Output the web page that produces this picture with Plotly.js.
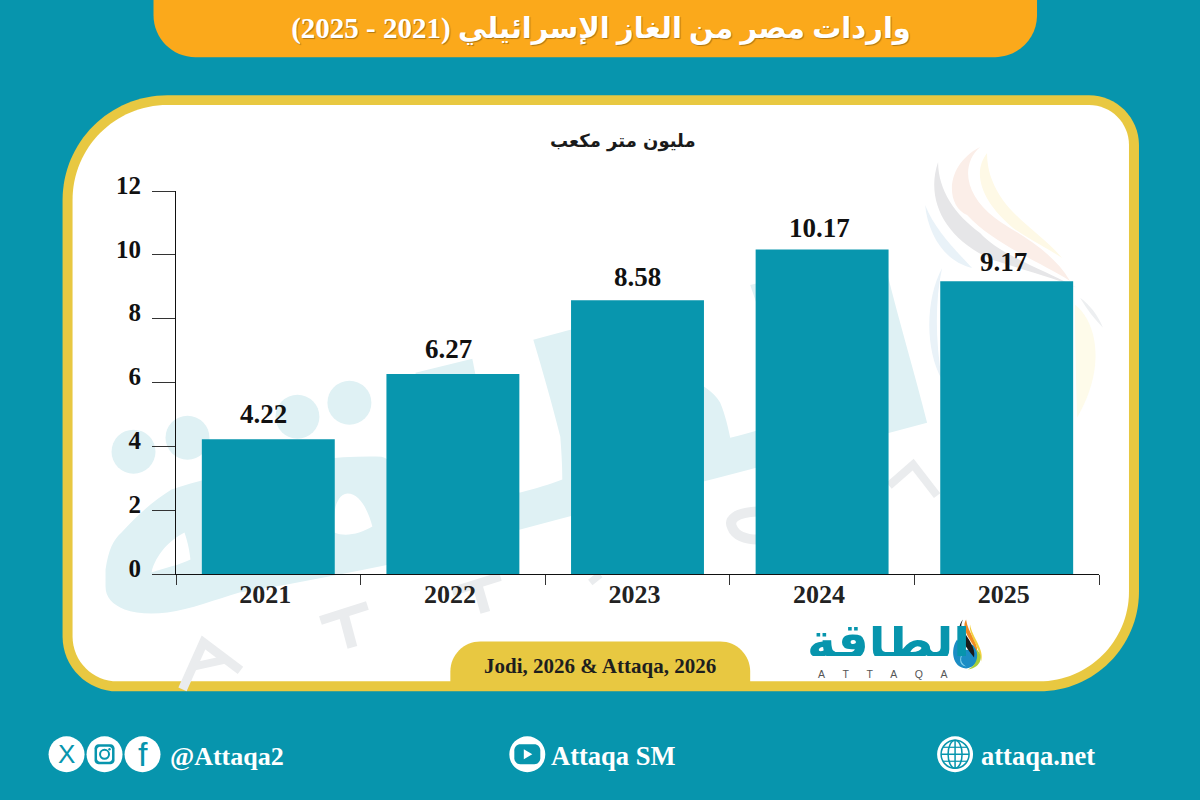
<!DOCTYPE html>
<html><head><meta charset="utf-8">
<script src="https://cdn.plot.ly/plotly-3.0.1.min.js"></script>
<style>html,body{margin:0;padding:0;background:#0795AD}#c{width:1200px;height:800px}</style></head>
<body><div id="c"></div>
<script>
const years = ['2021','2022','2023','2024','2025'];
const imports = [4.22,6.27,8.58,10.17,9.17];
const valueLabels = ['4.22','6.27','8.58','10.17','9.17'];
const yTicks = [0,2,4,6,8,10,12];
const chartTitle = 'واردات مصر من الغاز الإسرائيلي (2021 - 2025)';
const unitLabel = 'مليون متر مكعب';
const sourceLabel = 'Jodi, 2026 &amp; Attaqa, 2026';
const labelShiftX = [-5,-4,0,-3,-3];
const labelShiftY = [8,8,6,4,2];

const TEAL='#0795AD', YEL='#E8C841', ORG='#FBA91B', WM='#DFF1F4', GR='#EAECEE';
const L=175.5,R=1099,T=191,B=574.5;
const fx=p=>(p-L)/(R-L), fy=p=>(B-p)/(B-T);
const P=(x,y)=>fx(x)+','+fy(y);
const K=0.5523;
function rrect(x0,y0,x1,y1,tl,tr,br,bl){
  let d='M'+P(x0+tl,y0)+' L'+P(x1-tr,y0);
  if(tr)d+=' C'+P(x1-tr*(1-K),y0)+' '+P(x1,y0+tr*(1-K))+' '+P(x1,y0+tr);
  d+=' L'+P(x1,y1-br);
  if(br)d+=' C'+P(x1,y1-br*(1-K))+' '+P(x1-br*(1-K),y1)+' '+P(x1-br,y1);
  d+=' L'+P(x0+bl,y1);
  if(bl)d+=' C'+P(x0+bl*(1-K),y1)+' '+P(x0,y1-bl*(1-K))+' '+P(x0,y1-bl);
  d+=' L'+P(x0,y0+tl);
  if(tl)d+=' C'+P(x0,y0+tl*(1-K))+' '+P(x0+tl*(1-K),y0)+' '+P(x0+tl,y0);
  return d+' Z';
}
function poly(pts,close=true){return pts.map((p,i)=>(i?'L':'M')+P(p[0],p[1])).join(' ')+(close?' Z':'');}
function curve(start,segs,close=true){
  return 'M'+P(start[0],start[1])+' '+segs.map(s=>'C'+P(s[0],s[1])+' '+P(s[2],s[3])+' '+P(s[4],s[5])).join(' ')+(close?' Z':'');
}
const fill=(path,color,extra={})=>Object.assign({type:'path',xref:'paper',yref:'paper',layer:'below',path,fillcolor:color,line:{width:0}},extra);
const stroke=(path,color,w)=>({type:'path',xref:'paper',yref:'paper',layer:'below',path,line:{color,width:w}});
const circ=(cx,cy,r,color,line)=>({type:'circle',xref:'paper',yref:'paper',layer:'below',x0:fx(cx-r),x1:fx(cx+r),y0:fy(cy+r),y1:fy(cy-r),fillcolor:color,line:line||{width:0}});

const shapes=[
  fill(rrect(153,-5,1037,57,0,0,42,42),ORG),
  fill(rrect(62,95,1139,692,105,50,100,55),YEL),
  fill(rrect(72,105,1129,682,95,40,90,45),'#FFFFFF'),
  // watermark flame
  fill(curve([925,205],[[928,235,945,262,972,268],[955,250,935,230,925,205]]),'#E9F2F8'),
  fill(curve([938,162],[[925,200,945,240,993,260],[1030,272,1060,280,1077,288],[1040,268,1000,255,980,233],[955,215,938,190,938,162]]),'#E6E6E8'),
  fill(curve([980,147],[[945,165,945,205,967,215],[995,245,1040,262,1070,281],[1050,247,1010,230,995,218],[965,195,960,165,980,147]]),'#FBEEE8'),
  fill(curve([987,153],[[970,175,985,205,1013,228],[1030,240,1050,250,1062,258],[1040,232,1005,215,992,180],[988,170,987,160,987,153]]),'#FEF9E6'),
  fill(curve([942,268],[[925,300,925,350,942,380],[935,340,935,300,942,268]]),'#E9F2F8'),
  fill(curve([1080,298],[[1090,305,1098,316,1103,328],[1095,320,1087,310,1080,298]]),'#EDEFF1'),
  fill(curve([1075,305],[[1095,320,1108,365,1077,418],[1076,380,1075,340,1075,305]]),'#FEFBEA'),
  // watermark letters
  circ(133,452,22,WM),circ(187,438,22,WM),circ(297,417,22,WM),circ(349,403,22,WM),
  fill(curve([105,570],[[108,550,113,540,121,533],[140,512,155,500,171,490],[230,470,320,455,381,457],[385,458,386,459,387,460],[389,490,389,530,389,565],[340,575,290,585,239,593],[215,600,190,610,167,613],[150,615,135,614,124,610],[112,605,105,598,105,587],[105,580,105,575,105,570]])
     +' '+curve([334,533],[[332,515,335,495,347,494],[360,494,368,512,372,527],[360,534,345,538,334,533]])
     +' '+curve([151,573],[[155,555,170,540,184,533],[188,545,189,552,190,560],[178,566,165,568,151,573]]),WM,{fillrule:'evenodd'}),
  fill(poly([[415,373],[472,359],[480,400],[430,420]]),WM),
  fill(curve([533,340],[[545,337,558,333,570,330],[620,340,665,365,704,387],[712,392,717,398,720,403],[725,415,728,428,730,438],[740,436,748,433,756,431],[770,428,785,424,800,420],[785,380,765,330,750,285],[800,272,850,262,888,277],[900,325,915,375,927,423],[790,460,650,495,520,530],[475,542,430,553,389,565],[389,540,389,510,389,480],[430,485,480,490,520,493],[535,489,550,485,562,480],[562,465,561,450,560,437],[552,405,542,370,533,340]]),WM),
  // ATTAQA watermark
  stroke(poly([[182,690],[203,643],[240,671]],false),GR,9),
  stroke(poly([[194,667],[226,660]],false),GR,8),
  stroke(poly([[320,621],[367,606]],false),GR,9),
  stroke(poly([[343,614],[352,648]],false),GR,10),
  stroke(poly([[452,592],[500,577]],false),GR,9),
  stroke(poly([[476,582],[485,613]],false),GR,10),
  stroke(poly([[590,583],[600,575]],false),GR,7),
  stroke(curve([757,512],[[735,513,728,520,732,528],[735,536,745,540,757,540]],false),GR,10),
  stroke(poly([[889,486],[913,465],[937,496]],false),GR,8),
  // source tab
  fill(rrect(450,642,750,690,30,30,0,0),YEL),
  // social icons
  circ(66,755,18,'#FFF'),circ(104,755,18,'#FFF'),circ(142,755,18,'#FFF'),
  fill(rrect(94,745,114,765,4,4,4,4),TEAL),
  fill(rrect(96.5,747.5,111.5,762.5,3,3,3,3),'#FFF'),
  circ(104,755,4.5,'#FFF',{color:TEAL,width:2}),
  circ(109,750,1.2,TEAL),
  circ(527,755,18,'#FFF'),
  fill(rrect(514,745,540,765,6,6,6,6),TEAL),
  fill(poly([[523.5,750],[523.5,760],[532,755]]),'#FFF'),
  circ(955,755,18,'#FFF'),
  circ(955,755,14,'#FFF',{color:TEAL,width:1.5}),
  {type:'circle',xref:'paper',yref:'paper',layer:'below',x0:fx(948),x1:fx(962),y0:fy(769),y1:fy(741),line:{color:TEAL,width:1.5}},
  stroke(poly([[955,741],[955,769]],false),TEAL,1.5),
  stroke(poly([[941,755],[969,755]],false),TEAL,1.5),
  stroke(poly([[943,748],[967,748]],false),TEAL,1.2),
  stroke(poly([[943,762],[967,762]],false),TEAL,1.2),
  // logo flame
  fill(curve([957,640],[[950,650,952,668,966,669],[980,668,982,650,972,645],[968,655,963,650,957,640]]),'#1B8DC4'),
  fill(curve([966,650],[[958,656,958,666,966,667],[958,662,961,656,966,650]]),'#7FD0EA'),
  fill(curve([963,620],[[952,632,968,650,974,658],[976,648,968,640,964,632],[960,628,961,624,963,620]]),'#1A1A1A'),
  fill(curve([966,620],[[960,630,972,642,977,652],[978,642,968,634,966,620]]),'#F08A24'),
  fill(curve([970,625],[[968,635,980,648,981,662],[985,650,972,638,970,625]]),'#F4D03F'),
  fill(curve([976,650],[[984,655,982,668,968,670],[976,666,979,658,976,650]]),'#A6CE39')
];

const serif='"Liberation Serif","DejaVu Sans",serif';
const ann=(text,x,y,size,color,extra={})=>Object.assign({text,xref:'paper',yref:'paper',x:fx(x),y:fy(y),xanchor:'center',yanchor:'middle',showarrow:false,
  font:{family:serif,size,color,weight:700}},extra);
const nb='\u00A0\u00A0\u00A0\u00A0\u00A0\u00A0';
const annotations=[
  ann(unitLabel,623,141,19,'#1A1A1A',{font:{family:'"DejaVu Sans",sans-serif',size:18,color:'#1A1A1A',weight:700}}),
  ann(sourceLabel,600,667,21,'#1E1E1E'),
  ann('الطاقة',888,642,50,TEAL,{font:{family:'"DejaVu Sans",sans-serif',size:49,color:TEAL,weight:700},height:30}),
  ann(['A','T','T','A','Q','A'].join(nb),883,675,11,'#555',{font:{family:'"Liberation Sans",sans-serif',size:10.5,color:'#555'}}),
  ann('X',66,755,26,TEAL,{font:{family:'"Liberation Sans",sans-serif',size:26,color:TEAL}}),
  ann('f',142,755,34,TEAL,{font:{family:'"Liberation Sans",sans-serif',size:34,color:TEAL}}),
  ann('@Attaqa2',226.5,757,26,'#FFF'),
  ann('Attaqa SM',613,757,26.5,'#FFF'),
  ann('attaqa.net',1038,757,26.5,'#FFF'),
  ...years.map((yr,i)=>({text:valueLabels[i],xref:'x',yref:'y',x:i,y:imports[i],xanchor:'center',yanchor:'bottom',showarrow:false,
    xshift:labelShiftX[i],yshift:labelShiftY[i],font:{family:serif,size:27,color:'#111',weight:700}}))
];

const data=[{type:'bar',x:years,y:imports,marker:{color:'#0896AE',line:{width:0}},hoverinfo:'x+y'}];

const layout={width:1200,height:800,autosize:false,
  margin:{l:L,r:1200-R,t:T,b:800-B,pad:0},
  paper_bgcolor:TEAL,plot_bgcolor:'rgba(0,0,0,0)',showlegend:false,bargap:0.28,
  title:{text:chartTitle,x:601/1200,xref:'container',xanchor:'center',y:1-28/800,yref:'container',yanchor:'middle',
    font:{family:serif,size:29,color:'#FFF',weight:700,shadow:'1px 1px 1px rgba(0,0,0,0.3)'}},
  xaxis:{type:'category',categoryorder:'array',categoryarray:years,tickson:'boundaries',ticks:'outside',ticklen:10,tickcolor:'#333',tickwidth:1,
    showline:true,linecolor:'#111',linewidth:1,showgrid:false,zeroline:false,ticklabelshift:-3,ticklabelstandoff:-3,tickangle:0,
    tickfont:{family:serif,size:26,color:'#222',weight:700}},
  yaxis:{range:[0,12],tickmode:'array',tickvals:yTicks,ticktext:yTicks.map(String),ticks:'outside',ticklen:23,tickcolor:'#333',tickwidth:1,
    showline:true,linecolor:'#111',linewidth:1,showgrid:false,zeroline:false,ticklabelstandoff:6,ticklabelshift:-6,
    tickfont:{family:serif,size:25,color:'#111',weight:700}},
  shapes,annotations};
Plotly.newPlot('c',data,layout,{displayModeBar:false,staticPlot:true});
</script></body></html>
